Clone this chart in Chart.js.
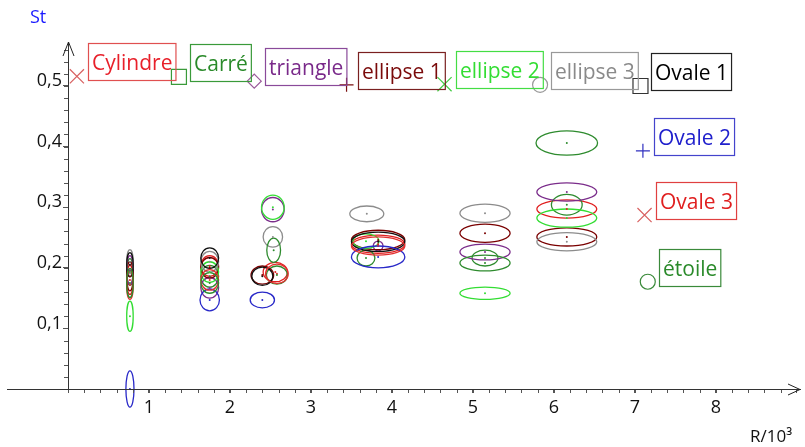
<!DOCTYPE html>
<html><head><meta charset="utf-8">
<script src="https://cdn.jsdelivr.net/npm/chart.js@4"></script>
<style>html,body{margin:0;padding:0;background:#fff}</style>
</head><body>
<canvas id="c" width="805" height="447"></canvas>
<script>
// ---- DATA ----  each point: [R/10^3, St, half-width dR, half-height dSt]
const seriesNames = ['Cylindre', 'Carré', 'triangle', 'ellipse 1', 'ellipse 2', 'ellipse 3', 'Ovale 1', 'Ovale 2', 'Ovale 3', 'étoile'];
const cylindre = [[0.765, 0.180, 0.04, 0.024], [1.75, 0.203, 0.11, 0.017], [2.56, 0.193, 0.15, 0.016], [3.83, 0.239, 0.33, 0.015], [6.16, 0.297, 0.37, 0.015]];
const carre    = [[0.765, 0.193, 0.04, 0.022], [1.75, 0.186, 0.11, 0.018], [2.58, 0.188, 0.13, 0.015], [3.68, 0.216, 0.11, 0.013], [5.15, 0.216, 0.16, 0.013], [6.16, 0.304, 0.19, 0.017]];
const triangle = [[0.765, 0.196, 0.04, 0.024], [1.75, 0.167, 0.11, 0.017], [2.53, 0.296, 0.14, 0.020], [3.83, 0.236, 0.06, 0.008], [5.15, 0.226, 0.31, 0.013], [6.16, 0.325, 0.37, 0.015]];
const ellipse1 = [[0.765, 0.186, 0.04, 0.024], [1.75, 0.200, 0.11, 0.017], [2.40, 0.188, 0.14, 0.015], [3.83, 0.246, 0.33, 0.016], [5.15, 0.257, 0.31, 0.015], [6.16, 0.251, 0.37, 0.015]];
const ellipse2 = [[0.765, 0.120, 0.04, 0.025], [1.75, 0.193, 0.11, 0.017], [2.53, 0.300, 0.14, 0.020], [3.68, 0.244, 0.16, 0.012], [5.15, 0.158, 0.31, 0.010], [6.16, 0.282, 0.37, 0.015]];
const ellipse3 = [[0.765, 0.210, 0.04, 0.020], [1.75, 0.210, 0.11, 0.017], [2.53, 0.251, 0.12, 0.017], [3.69, 0.289, 0.21, 0.013], [5.15, 0.290, 0.31, 0.015], [6.16, 0.243, 0.37, 0.015]];
const ovale1   = [[0.765, 0.205, 0.04, 0.020], [1.75, 0.216, 0.11, 0.017], [2.40, 0.186, 0.13, 0.015], [3.83, 0.243, 0.33, 0.016]];
const ovale2   = [[0.765, 0.000, 0.05, 0.030], [1.75, 0.147, 0.12, 0.018], [2.40, 0.147, 0.15, 0.013], [3.83, 0.218, 0.33, 0.018]];
const ovale3   = [[0.765, 0.172, 0.04, 0.024], [1.75, 0.180, 0.11, 0.017], [2.58, 0.190, 0.14, 0.016], [3.83, 0.236, 0.33, 0.015]];
const etoile   = [[0.765, 0.175, 0.04, 0.024], [1.75, 0.175, 0.11, 0.017], [2.54, 0.229, 0.085, 0.020], [5.15, 0.208, 0.31, 0.013], [6.16, 0.406, 0.38, 0.020]];
// legend marker positions (data coords)
const markerR  = [0.11, 1.37, 2.30, 3.44, 4.65, 5.83, 7.07, 7.10, 7.12, 7.16];
const markerSt = [0.516, 0.515, 0.508, 0.502, 0.503, 0.502, 0.500, 0.393, 0.287, 0.177];
const xTickLabels = ['1', '2', '3', '4', '5', '6', '7', '8'];
const yTickLabels = ['0,1', '0,2', '0,3', '0,4', '0,5'];

// ---- STYLE ----
const allSeries = [cylindre, carre, triangle, ellipse1, ellipse2, ellipse3, ovale1, ovale2, ovale3, etoile];
const strokeCol = ['#e02020', '#2e8b2e', '#7b2d8b', '#7a0000', '#33dd33', '#8c8c8c', '#111111', '#2828c8', '#e23030', '#2e8b2e'];
const textCol   = ['#e8202a', '#2a8a2a', '#7a2a8a', '#7a0a0a', '#33dd33', '#8a8a8a', '#000000', '#2020cc', '#e02020', '#2a8a2a'];
const boxCol    = ['#e05050', '#3a9a3a', '#8a4a9a', '#7a2020', '#44dd44', '#999999', '#222222', '#4444cc', '#e04040', '#3a8a3a'];
const markCol   = ['#d86060', '#3a9a3a', '#9a5a9a', '#7a1010', '#44cc44', '#999999', '#333333', '#3030c0', '#d86060', '#3a8a3a'];
const markStyle = ['crossRot', 'rect', 'rectRot', 'cross', 'crossRot', 'circle', 'rect', 'cross', 'crossRot', 'circle'];
const markRad   = [10, 10.6, 7, 7, 10, 7.5, 10.6, 7, 10, 7.5];

const datasets = [];
allSeries.forEach((s, i) => {
  datasets.push({
    label: seriesNames[i], kind: 'err', idx: i,
    data: s.map(p => ({x: p[0], y: p[1], dx: p[2], dy: p[3]})),
    pointRadius: 1, pointBackgroundColor: strokeCol[i], pointBorderColor: strokeCol[i], borderWidth: 0, showLine: false
  });
});
seriesNames.forEach((n, i) => {
  datasets.push({
    label: n + ' marker', kind: 'mark', idx: i,
    data: [{x: markerR[i], y: markerSt[i]}],
    pointStyle: markStyle[i], pointRadius: markRad[i], pointBorderColor: markCol[i], pointBorderWidth: 1.2,
    pointBackgroundColor: 'rgba(0,0,0,0)', showLine: false
  });
});

const FONT = '"Open Sans", "DejaVu Sans", sans-serif';

const ellipsePlugin = {
  id: 'ellipses',
  beforeDatasetsDraw(chart) {
    const ctx = chart.ctx, xs = chart.scales.x, ys = chart.scales.y;
    ctx.save();
    chart.data.datasets.forEach(ds => {
      if (ds.kind !== 'err') return;
      ctx.strokeStyle = strokeCol[ds.idx];
      ctx.lineWidth = 1.3;
      ds.data.forEach(p => {
        const cx = xs.getPixelForValue(p.x), cy = ys.getPixelForValue(p.y);
        const rx = Math.abs(xs.getPixelForValue(p.x + p.dx) - cx);
        const ry = Math.abs(ys.getPixelForValue(p.y + p.dy) - cy);
        ctx.beginPath();
        ctx.ellipse(cx, cy, rx, ry, 0, 0, Math.PI * 2);
        ctx.stroke();
      });
    });
    ctx.restore();
  },
  afterDraw(chart) {
    const ctx = chart.ctx, xs = chart.scales.x, ys = chart.scales.y, ca = chart.chartArea;
    ctx.save();
    const y0 = ys.getPixelForValue(0), x0 = xs.getPixelForValue(0);
    ctx.strokeStyle = '#333'; ctx.lineWidth = 1;
    ctx.beginPath(); ctx.moveTo(7, y0 + 0.5); ctx.lineTo(ca.right, y0 + 0.5); ctx.stroke();
    ctx.lineWidth = 1; ctx.strokeStyle = '#555';
    for (let k = 1; k <= 44; k++) {
      const px = Math.round(xs.getPixelForValue(k * 0.2)) + 0.5;
      ctx.beginPath(); ctx.moveTo(px, y0 + 1); ctx.lineTo(px, y0 + 4); ctx.stroke();
    }
    for (let k = 1; k <= 28; k++) {
      const py = Math.round(ys.getPixelForValue(k * 0.02)) + 0.5;
      ctx.beginPath(); ctx.moveTo(x0 - 4, py); ctx.lineTo(x0, py); ctx.stroke();
    }
    ctx.strokeStyle = '#222'; ctx.lineWidth = 1;
    ctx.beginPath(); ctx.moveTo(x0 - 5, ca.top + 14); ctx.lineTo(x0 + 0.5, ca.top); ctx.lineTo(x0 + 6, ca.top + 14); ctx.stroke();
    ctx.beginPath(); ctx.moveTo(ca.right - 12, y0 - 5); ctx.lineTo(ca.right, y0 + 0.5); ctx.lineTo(ca.right - 12, y0 + 6); ctx.stroke();
    ctx.fillStyle = '#1a1aff'; ctx.font = '18px ' + FONT; ctx.textBaseline = 'middle'; ctx.textAlign = 'left';
    ctx.fillText('St', 30, 18);
    ctx.fillStyle = '#111'; ctx.font = '17px ' + FONT;
    ctx.fillText('R/10³', 750, 437);
    ctx.font = '21px ' + FONT; ctx.textBaseline = 'alphabetic';
    chart.data.datasets.forEach((ds, di) => {
      if (ds.kind !== 'mark') return;
      const el = chart.getDatasetMeta(di).data[0];
      const left = Math.round(el.x + 11) + 0.5, bottom = Math.round(el.y + 4) + 0.5;
      const txt = seriesNames[ds.idx];
      const w = ctx.measureText(txt).width;
      ctx.strokeStyle = boxCol[ds.idx]; ctx.lineWidth = 1.2;
      ctx.strokeRect(left, bottom - 37, w + 7, 37);
      ctx.fillStyle = textCol[ds.idx];
      ctx.fillText(txt, left + 3.5, bottom - 11);
    });
    ctx.restore();
  }
};

const chart = new Chart(document.getElementById('c'), {
  type: 'scatter',
  data: { datasets },
  options: {
    responsive: false, animation: false,
    layout: { autoPadding: false, padding: { left: 7, right: 5, top: 42, bottom: 0 } },
    plugins: { legend: { display: false }, tooltip: { enabled: false } },
    scales: {
      x: {
        type: 'linear', min: 0, max: 9.04,
        afterFit: s => { s.height = 58; s.paddingRight = 0; s.paddingLeft = 0; },
        border: { display: true, color: '#333' },
        grid: { drawOnChartArea: false, drawTicks: true, tickLength: 4, color: '#555' },
        ticks: { stepSize: 1, includeBounds: false, padding: 4, color: '#111', font: { size: 18, family: FONT },
          callback: v => (v >= 1 && v <= xTickLabels.length) ? xTickLabels[v - 1] : '' }
      },
      y: {
        type: 'linear', min: 0, max: 0.5726,
        afterFit: s => { s.width = 61; s.paddingTop = 0; s.paddingBottom = 0; },
        border: { display: true, color: '#333' },
        grid: { drawOnChartArea: false, drawTicks: true, tickLength: 5, color: '#555' },
        ticks: { stepSize: 0.1, includeBounds: false, padding: 1, labelOffset: -5, color: '#111', font: { size: 18, family: FONT },
          callback: v => { const k = Math.round(v * 10); return (k >= 1 && k <= 5 && Math.abs(v * 10 - k) < 1e-6) ? yTickLabels[k - 1] : ''; } }
      }
    }
  },
  plugins: [ellipsePlugin]
});
</script>
</body></html>
